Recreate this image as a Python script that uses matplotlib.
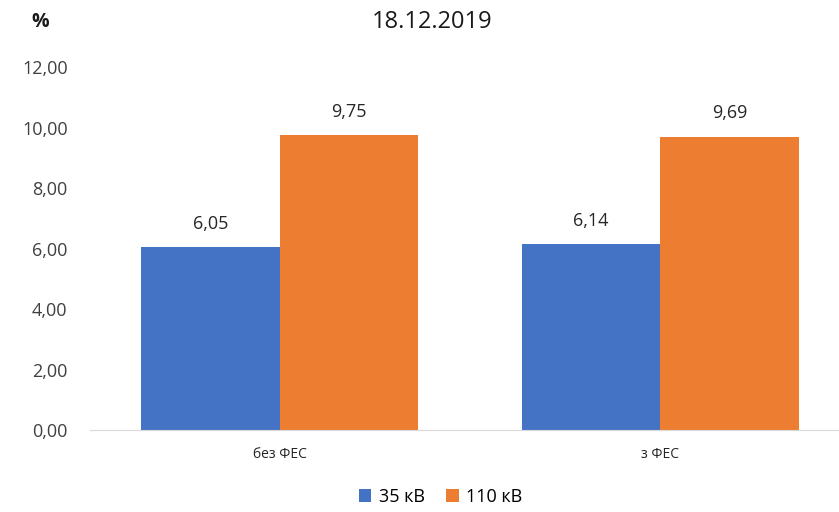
import matplotlib.pyplot as plt
import numpy as np

categories = ['без ФЕС', 'з ФЕС']
series_names = ['35 кВ', '110 кВ']
v35 = [6.05, 6.14]
v110 = [9.75, 9.69]
colors = ['#4472C4', '#ED7D31']

plt.rcParams['font.family'] = ['Open Sans', 'DejaVu Sans']

fig = plt.figure(figsize=(8.39, 5.12), dpi=100)
ax = fig.add_axes([0.107, 0.160, 0.893, 0.709])

x = np.arange(len(categories))
w = 0.364
bars1 = ax.bar(x - w / 2, v35, w, color=colors[0], label=series_names[0])
bars2 = ax.bar(x + w / 2, v110, w, color=colors[1], label=series_names[1])

for bars in (bars1, bars2):
    for b in bars:
        ax.text(b.get_x() + b.get_width() / 2, b.get_height() + 0.48,
                f'{b.get_height():.2f}'.replace('.', ','),
                ha='center', va='bottom', fontsize=13, color='#262626')

ax.set_xlim(-0.5, 1.47)
ax.set_ylim(0, 12)
ax.set_yticks(np.arange(0, 13, 2))
ax.set_yticklabels([f'{t:.2f}'.replace('.', ',') for t in np.arange(0, 13, 2)],
                   fontsize=13, color='#404040')
ax.set_xticks(x)
ax.set_xticklabels(categories, fontsize=10, color='#262626')
ax.tick_params(axis='both', length=0)
ax.tick_params(axis='y', pad=16)
ax.tick_params(axis='x', pad=12)
for s in ('top', 'right', 'left'):
    ax.spines[s].set_visible(False)
ax.spines['bottom'].set_color('#d9d9d9')

fig.text(0.515, 0.957, '18.12.2019', ha='center', va='center', fontsize=17, color='#1a1a1a')
fig.text(0.048, 0.957, '%', ha='center', va='center', fontsize=14, fontweight='bold', color='#1a1a1a')

fig.legend(loc='center', bbox_to_anchor=(0.525, 0.03), ncol=2, frameon=False,
           fontsize=13, handlelength=0.7, handleheight=0.7, handletextpad=0.4,
           columnspacing=1.2)

fig.savefig('out.png', dpi=100)
